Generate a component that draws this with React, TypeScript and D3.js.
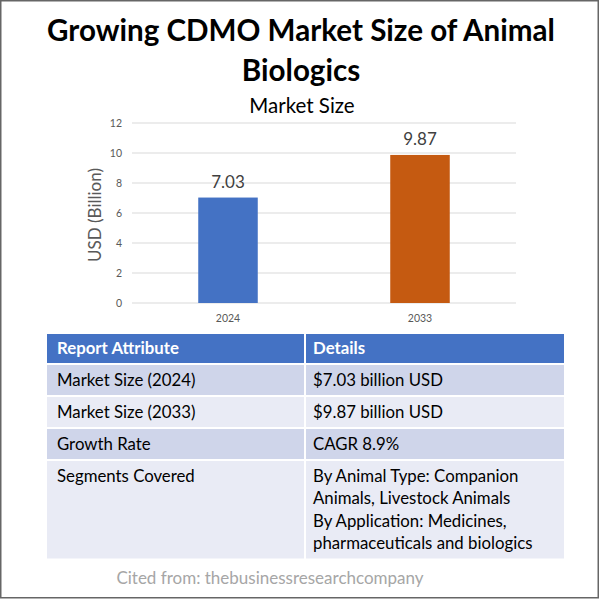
import * as d3 from "d3";

const years = ["2024", "2033"];
const marketSize = [7.03, 9.87];
const barColors = ["#4472C4", "#C55A11"];
const yTicks = [0, 2, 4, 6, 8, 10, 12];

const headers = ["Report Attribute", "Details"];
const attributes = ["Market Size (2024)", "Market Size (2033)", "Growth Rate", "Segments Covered"];
const details = [
  ["$7.03 billion USD"],
  ["$9.87 billion USD"],
  ["CAGR 8.9%"],
  [
    "By Animal Type: Companion",
    "Animals, Livestock Animals",
    "By Application: Medicines,",
    "pharmaceuticals and biologics",
  ],
];

const FONT = "Lato, 'Open Sans', sans-serif";

const App = () => {
  const W = 600;
  const H = 600;

  // chart area
  const x = d3.scaleBand<string>().domain(years).range([132, 516]).paddingInner(0.69).paddingOuter(0.345);
  const y = d3.scaleLinear().domain([0, 12]).range([303, 123]);

  // table layout
  const tLeft = 47;
  const tRight = 564;
  const colSplit = 305;
  const headTop = 334;
  const headH = 29;
  const gap = 2;
  const lineH = 22.5;
  const fs = 16.8;
  const rowHs = details.map((d) => 30 + (d.length - 1) * lineH);
  const rowTops: number[] = [];
  let cur = headTop + headH + gap;
  rowHs.forEach((h) => {
    rowTops.push(cur);
    cur += h + gap;
  });
  const rowFill = ["#CFD5EA", "#E9EBF5", "#CFD5EA", "#E9EBF5"];

  return (
    <svg
      width={W}
      height={H}
      style={{ position: "absolute", left: 0, top: 0, background: "#fff" }}
      fontFamily={FONT}
    >
      <rect x={0.75} y={0.75} width={W - 2.5} height={H - 3} fill="#fff" stroke="#666" strokeWidth={1.5} />

      {/* title */}
      <text x={301} y={41} textAnchor="middle" fontSize={29.6} fontWeight="bold" fill="#000">
        Growing CDMO Market Size of Animal
      </text>
      <text x={301} y={81} textAnchor="middle" fontSize={29.6} fontWeight="bold" fill="#000">
        Biologics
      </text>
      <text x={302} y={113} textAnchor="middle" fontSize={20.5} fill="#000">
        Market Size
      </text>

      {/* grid + y ticks */}
      {yTicks.map((t) => (
        <g key={t}>
          <line x1={132} x2={516} y1={y(t)} y2={y(t)} stroke="#D9D9D9" strokeWidth={1} />
          <text x={122} y={y(t)} dy="0.35em" textAnchor="end" fontSize={10.5} fill="#595959">
            {t}
          </text>
        </g>
      ))}

      <text
        transform={`translate(95,${(y(0) + y(12)) / 2 + 2}) rotate(-90)`}
        textAnchor="middle"
        dy="0.35em"
        fontSize={17}
        fill="#595959"
      >
        USD (Billion)
      </text>

      {/* bars */}
      {years.map((yr, i) => (
        <g key={yr}>
          <rect
            x={x(yr)!}
            y={y(marketSize[i])}
            width={x.bandwidth()}
            height={y(0) - y(marketSize[i])}
            fill={barColors[i]}
          />
          <text
            x={x(yr)! + x.bandwidth() / 2}
            y={y(marketSize[i]) - 10}
            textAnchor="middle"
            fontSize={17}
            fill="#404040"
          >
            {marketSize[i].toFixed(2)}
          </text>
          <text x={x(yr)! + x.bandwidth() / 2} y={322} textAnchor="middle" fontSize={10.5} fill="#595959">
            {yr}
          </text>
        </g>
      ))}

      {/* table header */}
      <rect x={tLeft} y={headTop} width={colSplit - tLeft - 1} height={headH} fill="#4472C4" />
      <rect x={colSplit + 1} y={headTop} width={tRight - colSplit - 1} height={headH} fill="#4472C4" />
      <text x={57} y={headTop + headH / 2} dy="0.35em" fontSize={fs} fontWeight="bold" fill="#fff">
        {headers[0]}
      </text>
      <text x={313} y={headTop + headH / 2} dy="0.35em" fontSize={fs} fontWeight="bold" fill="#fff">
        {headers[1]}
      </text>

      {/* table rows */}
      {attributes.map((a, i) => (
        <g key={a}>
          <rect x={tLeft} y={rowTops[i]} width={colSplit - tLeft - 1} height={rowHs[i]} fill={rowFill[i]} />
          <rect x={colSplit + 1} y={rowTops[i]} width={tRight - colSplit - 1} height={rowHs[i]} fill={rowFill[i]} />
          <text x={57} y={rowTops[i] + 15} dy="0.35em" fontSize={fs} fill="#000">
            {a}
          </text>
          {details[i].map((line, j) => (
            <text key={j} x={313} y={rowTops[i] + 15 + j * lineH} dy="0.35em" fontSize={fs} fill="#000">
              {line}
            </text>
          ))}
        </g>
      ))}

      <text x={270} y={578} dy="0.35em" textAnchor="middle" fontSize={17} fill="#A6A6A6">
        Cited from: thebusinessresearchcompany
      </text>
    </svg>
  );
};

export default App;
